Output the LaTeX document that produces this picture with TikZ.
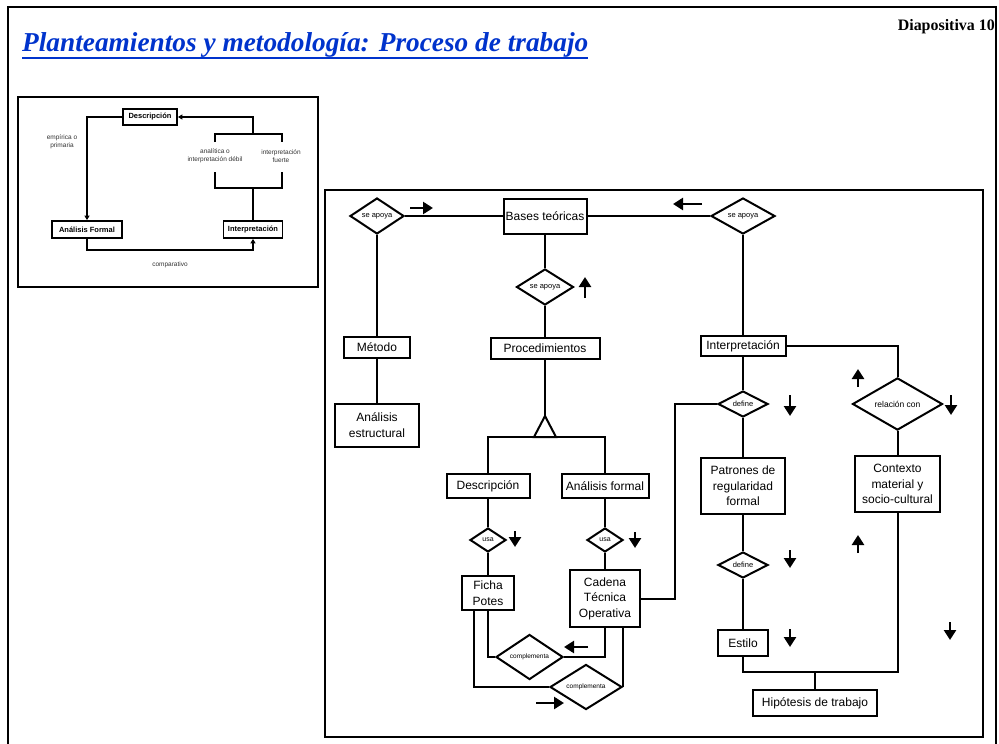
\documentclass[tikz,border=0pt]{standalone}
\usepackage{graphicx}
\usepackage{fontspec}
\setmainfont{Liberation Serif}
\setsansfont{Liberation Sans}
\usetikzlibrary{shapes.geometric,arrows.meta}
\definecolor{titleblue}{HTML}{0033CC}

\begin{document}
\begin{tikzpicture}[x=1pt,y=-1pt,
  box/.style={draw, line width=2pt, fill=white, inner sep=0pt, align=center,
              font=\sffamily\fontsize{12}{15.5}\selectfont},
  sbox/.style={draw, line width=1.8pt, fill=white, inner sep=0pt,
               font=\sffamily\bfseries\fontsize{7.5}{9}\selectfont},
  rel/.style={diamond, draw, line width=2pt, fill=white, inner sep=0pt,
              font=\sffamily\fontsize{7.5}{9}\selectfont},
  link/.style={line width=2pt},
  slink/.style={line width=1.8pt},
  stip/.style={slink, -{Triangle[length=4.5pt,width=5pt]}},
  flow/.style={line width=2.6pt, -{Triangle[length=10pt,width=12pt]}},
  note/.style={font=\sffamily\fontsize{6.5}{7.8}\selectfont, align=center, text=black!80},
]
\useasboundingbox (0,0) rectangle (999,744);

% slide frame and heading
\draw[line width=1.8pt] (8,746) -- (8,7) -- (996,7) -- (996,746);
\node[anchor=base west, inner sep=0pt, text=titleblue] (title) at (22,51)
  {\resizebox{566pt}{!}{\fontsize{26}{30}\selectfont\bfseries\itshape Planteamientos y metodología: Proceso de trabajo}};
\draw[titleblue, line width=1.8pt] (22,58) -- (588,58);
\node[anchor=base east, inner sep=0pt] (slide) at (995,30)
  {\resizebox{97pt}{!}{\fontsize{15}{18}\selectfont\bfseries Diapositiva 10}};

% ---------- small cycle diagram ----------
\draw[slink] (18,97) rectangle (318,287);
\node[sbox, minimum width=54pt, minimum height=16pt] (sdesc) at (150,117) {Descripción};
\node[sbox, minimum width=70pt, minimum height=17pt] (sanal) at (87,229.5) {Análisis Formal};
\node[sbox, minimum width=59pt, minimum height=17pt] (sint) at (253,229.5) {Interpretación};

\coordinate (stop) at (253,134);
\coordinate (sbot) at (253,188);
\draw[stip] (sdesc.west) -| (sanal.north);
\draw[stip] (stop) |- (sdesc.east);
\draw[slink] (215,142) -- (215,134) -- (282,134) -- (282,142);
\draw[slink] (215,172) -- (215,188) -- (282,188) -- (282,172);
\draw[slink] (sbot) -- (sint.north);
\draw[stip] (sanal.south) -- ++(0,11) -| (sint.south);

\node[note] (emp) at (62,142) {empírica o\\primaria};
\node[note] (ana) at (215,156) {analítica o\\interpretación débil};
\node[note] (fue) at (281,156) {interpretación\\fuerte};
\node[note] (comp) at (170,265) {comparativo};

% ---------- main working-process diagram ----------
\draw[line width=1.8pt] (325,190) rectangle (983,737);

\node[rel, minimum width=54pt, minimum height=32pt] (sa1) at (377,216) {se apoya};
\node[box, minimum width=83pt, minimum height=35pt] (bases) at (545,216) {Bases teóricas};
\node[rel, minimum width=64pt, minimum height=32pt] (sa2) at (743,216) {se apoya};
\node[rel, minimum width=57pt, minimum height=32pt] (sa3) at (545,287) {se apoya};

\node[box, minimum width=66pt, minimum height=21pt] (metodo) at (377,347) {Método};
\node[box, minimum width=84pt, minimum height=43pt] (aest) at (377,425) {Análisis\\estructural};
\node[box, minimum width=109pt, minimum height=21pt] (proc) at (545,348.5) {Procedimientos};
\node[box, minimum width=85pt, minimum height=20pt] (interp) at (743,346) {Interpretación};

\node[box, minimum width=83pt, minimum height=24pt] (desc) at (488,486) {Descripción};
\node[box, minimum width=87pt, minimum height=24pt] (afor) at (605,486) {Análisis formal};
\node[rel, minimum width=36pt, minimum height=24pt, font=\sffamily\fontsize{7}{8}\selectfont] (usa1) at (488,540) {usa};
\node[rel, minimum width=36pt, minimum height=24pt, font=\sffamily\fontsize{7}{8}\selectfont] (usa2) at (605,540) {usa};
\node[box, minimum width=52pt, minimum height=34pt] (ficha) at (488,593) {Ficha\\Potes};
\node[box, minimum width=70pt, minimum height=57pt] (cadena) at (605,598.5) {Cadena\\Técnica\\Operativa};
\node[rel, minimum width=67pt, minimum height=30pt, font=\sffamily\fontsize{6.5}{8}\selectfont] (comp1) at (529.5,657) {complementa};
\node[rel, minimum width=72pt, minimum height=32pt, font=\sffamily\fontsize{6.5}{8}\selectfont] (comp2) at (586,687) {complementa};

\node[rel, minimum width=50pt, minimum height=22pt] (def1) at (743,404) {define};
\node[box, minimum width=84pt, minimum height=56pt] (patrones) at (743,486) {Patrones de\\regularidad\\formal};
\node[rel, minimum width=50pt, minimum height=23pt] (def2) at (743,565) {define};
\node[box, minimum width=50pt, minimum height=26pt] (estilo) at (743,643) {Estilo};
\node[rel, minimum width=90pt, minimum height=40pt, font=\sffamily\fontsize{8.5}{10}\selectfont] (relcon) at (897.5,404) {relación con};
\node[box, minimum width=85pt, minimum height=56pt] (contexto) at (897.5,484) {Contexto\\material y\\socio-cultural};
\node[box, minimum width=124pt, minimum height=26pt] (hip) at (815,703) {Hipótesis de trabajo};

% connectors
\draw[link] (sa1.east) -- (bases.west);
\draw[link] (bases.east) -- (sa2.west);
\draw[link] (sa1.south) -- (metodo.north);
\draw[link] (metodo.south) -- (aest.north);
\draw[link] (bases.south) -- (sa3.north);
\draw[link] (sa3.south) -- (proc.north);
\draw[link] (sa2.south) -- (interp.north);

% specialisation triangle below Procedimientos
\coordinate (apex) at (545,416);
\coordinate (split) at (545,437);
\draw[link] (proc.south) -- (apex);
\draw[link, line join=miter] (apex) -- ++(-11,21) -- ++(22,0) -- cycle;
\draw[link] (desc.north) -- (desc.north |- split) -- (afor.north |- split) -- (afor.north);

\draw[link] (desc.south) -- (usa1.north);
\draw[link] (usa1.south) -- (ficha.north);
\draw[link] (afor.south) -- (usa2.north);
\draw[link] (usa2.south) -- (cadena.north);
\draw[link] (ficha.south) |- (comp1.west);
\draw[link] (comp1.east) -| (cadena.south);
\draw[link] ([xshift=-14pt]ficha.south) |- (comp2.west);
\draw[link] (comp2.east) -| ([xshift=18pt]cadena.south);

\draw[link] (interp.east) -| (relcon.north);
\draw[link] (interp.south) -- (def1.north);
\draw[link] (def1.west) -- ++(-42,0) |- (cadena.east);
\draw[link] (def1.south) -- (patrones.north);
\draw[link] (patrones.south) -- (def2.north);
\draw[link] (def2.south) -- (estilo.north);
\draw[link] (relcon.south) -- (contexto.north);

\coordinate (hj) at (815,672);
\draw[link] (estilo.south) |- (hj) -| (contexto.south);
\draw[link] (hj) -- (hip.north);

% direction markers
\draw[flow] (410,208) -- (433,208);
\draw[flow] (702,204) -- (673,204);
\draw[flow] (585,298) -- (585,277);
\draw[flow] (515,531) -- (515,547);
\draw[flow] (635,532) -- (635,548);
\draw[flow] (790,395) -- (790,416);
\draw[flow] (858,387) -- (858,369);
\draw[flow] (951,395) -- (951,415);
\draw[flow] (790,550) -- (790,568);
\draw[flow] (858,553) -- (858,535);
\draw[flow] (790,629) -- (790,647);
\draw[flow] (950,622) -- (950,640);
\draw[flow] (588,647) -- (564,647);
\draw[flow] (536,703) -- (564,703);
\end{tikzpicture}
\end{document}
